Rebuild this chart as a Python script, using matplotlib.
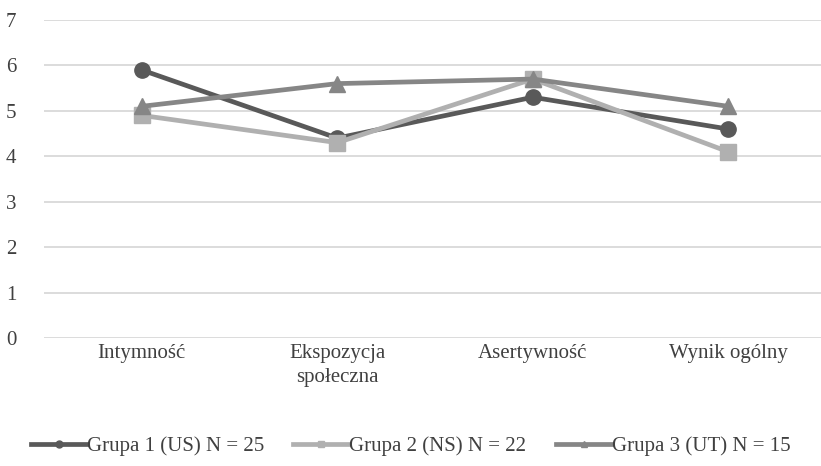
import matplotlib.pyplot as plt
from matplotlib.lines import Line2D

plt.rcParams['font.family'] = ['Liberation Serif', 'DejaVu Serif']

categories = ['Intymność', 'Ekspozycja\nspołeczna', 'Asertywność', 'Wynik ogólny']
g1 = [5.9, 4.4, 5.3, 4.6]
g2 = [4.9, 4.3, 5.7, 4.1]
g3 = [5.1, 5.6, 5.7, 5.1]
labels = ['Grupa 1 (US) N = 25', 'Grupa 2 (NS) N = 22', 'Grupa 3 (UT) N = 15']
colors = ['#595959', '#b0b0b0', '#868686']
markers = ['o', 's', '^']

fig = plt.figure(figsize=(8.21, 4.66), dpi=100)
ax = fig.add_axes([44 / 821, 128 / 466, 782 / 821, 318 / 466])

x = range(len(categories))
handles = []
for vals, c, m, lab in zip([g1, g2, g3], colors, markers, labels):
    ax.plot(x, vals, color=c, lw=3.4, marker=m, markersize=11, zorder=3)
    handles.append(Line2D([0], [0], color=c, lw=3.4, marker=m, markersize=5, label=lab))

ax.set_xlim(-0.5, 3.5)
ax.set_ylim(0, 7)
ax.set_yticks(range(8))
ax.grid(axis='y', color='#d9d9d9', lw=1.3)
ax.set_axisbelow(True)
for s in ax.spines.values():
    s.set_visible(False)
ax.tick_params(length=0, labelsize=15, colors='#404040')
ax.tick_params(axis='y', pad=20)
ax.tick_params(axis='x', pad=4)
ax.set_xticks(list(x))
ax.set_xticklabels(categories, linespacing=1.4)

fig.legend(handles=handles, loc='center', bbox_to_anchor=(0.5, 1 - 446 / 466), ncol=3,
           frameon=False, fontsize=15, handlelength=2.7, handletextpad=0.0,
           columnspacing=1.4, labelcolor='#404040')

fig.savefig('out.png', dpi=100)
